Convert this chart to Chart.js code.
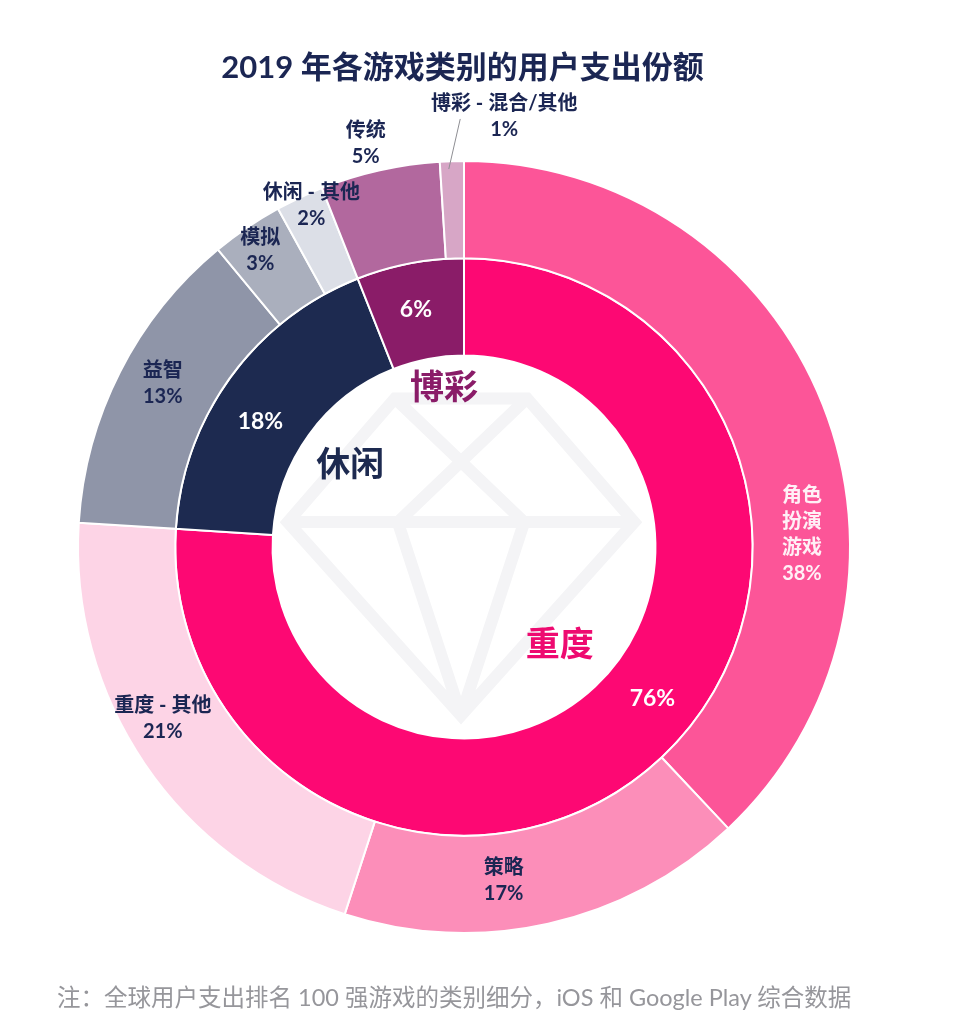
<!DOCTYPE html>
<html lang="zh-CN">
<head>
<meta charset="utf-8">
<title>2019 年各游戏类别的用户支出份额</title>
<script src="https://cdn.jsdelivr.net/npm/chart.js@4.4.1/dist/chart.umd.min.js"></script>
<style>
  html, body { margin: 0; padding: 0; background: #fff; }
  #wrap { position: relative; width: 953px; height: 1031px; overflow: hidden; }
  #chart { position: absolute; left: 0; top: 0; }
  .title {
    position: absolute; left: 0; top: 42px; width: 925px;
    line-height: 42px; text-align: center;
    font: bold 31px Lato, "Noto Sans CJK SC", sans-serif; color: #1B2653;
  }
  .note {
    position: absolute; left: 57px; top: 979px;
    line-height: 32px; white-space: nowrap;
    font: 23.5px Lato, "Noto Sans CJK SC", sans-serif; color: #96969B;
  }
</style>
</head>
<body>
<div id="wrap">
  <canvas id="chart" width="953" height="1031"></canvas>
  <div class="title">2019 年各游戏类别的用户支出份额</div>
  <div class="note">注：全球用户支出排名 100 强游戏的类别细分，iOS 和 Google Play 综合数据</div>
</div>
<script>
  // inner ring: main groups
  var groupNames = ["重度", "休闲", "博彩"];
  var groupShares = [76, 18, 6];

  // outer ring: sub-categories
  var subNames = ["角色扮演游戏", "策略", "重度 - 其他", "益智", "模拟", "休闲 - 其他", "传统", "博彩 - 混合/其他"];
  var subShares = [38, 17, 21, 13, 3, 2, 5, 1];

  var groupColors = ["#FD0873", "#1D2A50", "#8A1C68"];
  var groupNameColors = ["#EE0A70", "#1D2A50", "#8A1C68"];
  var subColors = ["#FC5598", "#FC8EB9", "#FDD4E6", "#8F95A8", "#AAAFBD", "#DCDFE7", "#B2689E", "#D7A6C6"];

  var NAVY = "#1B2653";

  // where each label sits: "at" = fraction along the arc, "r" = fraction of the outer radius
  var subSpots = [
    { at: 0.643, r: 0.876, color: "#FFF0F6", wrap: 2 },
    { at: 0.595, r: 0.869 },
    { at: 0.56, r: 0.898 },
    { at: 0.532, r: 0.888 },
    { at: 0.47, r: 0.931 },
    { at: 0.65, r: 0.968 },
    { at: 0.44, r: 1.077 },
    { at: 0.36, r: 0.98, leader: { at: 0.86, r: 1.109 }, shift: 44 }
  ];
  var groupPctSpots = [
    { at: 0.471, r: 0.627 },
    { at: 0.434, r: 0.62 },
    { at: 0.47, r: 0.627 }
  ];
  var groupNameSpots = [
    { at: 0.496, r: 0.355 },
    { at: 0.495, r: 0.363 },
    { at: 0.667, r: 0.414 }
  ];

  function spot(arc, s, R) {
    var a = arc.startAngle + s.at * (arc.endAngle - arc.startAngle);
    return { x: arc.x + s.r * R * Math.cos(a), y: arc.y + s.r * R * Math.sin(a) };
  }

  function splitName(name, wrap) {
    if (!wrap) return [name];
    var out = [];
    for (var i = 0; i < name.length; i += wrap) out.push(name.slice(i, i + wrap));
    return out;
  }

  function drawBlock(ctx, lines, x, y, lh) {
    var top = y - (lines.length - 1) * lh / 2;
    lines.forEach(function (t, i) { ctx.fillText(t, x, top + i * lh); });
  }

  var ringLabels = {
    id: "ringLabels",
    beforeDatasetsDraw: function (chart) {
      // faint diamond watermark inside the hole
      var inner = chart.getDatasetMeta(1).data[0];
      var cx = inner.x - 3, cy = inner.y, h = inner.innerRadius;
      var P = function (u, v) { return [cx + u * h, cy + v * h]; };
      var T1 = P(-0.345, -0.776), T2 = P(0.345, -0.776);
      var G1 = P(-0.905, -0.13), G2 = P(0.905, -0.13);
      var I1 = P(-0.33, -0.13), I2 = P(0.33, -0.13);
      var B = P(0, 0.88);
      var ctx = chart.ctx;
      ctx.save();
      ctx.beginPath();
      ctx.arc(inner.x, inner.y, h, 0, Math.PI * 2);
      ctx.clip();
      ctx.strokeStyle = "#F4F4F6";
      ctx.lineWidth = 12;
      ctx.lineJoin = "miter";
      ctx.beginPath();
      ctx.moveTo(T1[0], T1[1]); ctx.lineTo(T2[0], T2[1]); ctx.lineTo(G2[0], G2[1]);
      ctx.lineTo(B[0], B[1]); ctx.lineTo(G1[0], G1[1]); ctx.closePath();
      ctx.moveTo(G1[0], G1[1]); ctx.lineTo(G2[0], G2[1]);
      ctx.moveTo(T1[0], T1[1]); ctx.lineTo(I2[0], I2[1]); ctx.lineTo(B[0], B[1]);
      ctx.moveTo(T2[0], T2[1]); ctx.lineTo(I1[0], I1[1]); ctx.lineTo(B[0], B[1]);
      ctx.stroke();
      ctx.restore();
    },
    afterDatasetsDraw: function (chart) {
      var ctx = chart.ctx;
      var outer = chart.getDatasetMeta(0).data;
      var inner = chart.getDatasetMeta(1).data;
      var R = outer[0].outerRadius;
      ctx.save();
      ctx.textAlign = "center";
      ctx.textBaseline = "middle";

      // outer ring labels
      ctx.font = "bold 20px Lato, 'Noto Sans CJK SC', sans-serif";
      outer.forEach(function (arc, i) {
        var s = subSpots[i];
        var p = spot(arc, s, R);
        var lines = splitName(subNames[i], s.wrap).concat([subShares[i] + "%"]);
        if (s.leader) {
          var q = spot(arc, s.leader, R);
          ctx.strokeStyle = "#8E8E93";
          ctx.lineWidth = 1;
          ctx.beginPath();
          ctx.moveTo(p.x, p.y);
          ctx.lineTo(q.x, q.y);
          ctx.stroke();
          p = { x: q.x + s.shift, y: q.y - 2 };
        }
        ctx.fillStyle = s.color || NAVY;
        drawBlock(ctx, lines, p.x, p.y, 26);
      });

      // inner ring percentages
      ctx.font = "bold 23px Lato, 'Noto Sans CJK SC', sans-serif";
      ctx.fillStyle = "#FFFFFF";
      inner.forEach(function (arc, i) {
        var p = spot(arc, groupPctSpots[i], R);
        ctx.fillText(groupShares[i] + "%", p.x, p.y);
      });

      // group names in the hole
      ctx.font = "bold 34px Lato, 'Noto Sans CJK SC', sans-serif";
      inner.forEach(function (arc, i) {
        var p = spot(arc, groupNameSpots[i], R);
        ctx.fillStyle = groupNameColors[i];
        ctx.fillText(groupNames[i], p.x, p.y);
      });
      ctx.restore();
    }
  };

  new Chart(document.getElementById("chart").getContext("2d"), {
    type: "doughnut",
    data: {
      labels: subNames,
      datasets: [
        {
          data: subShares,
          backgroundColor: subColors,
          borderColor: "#FFFFFF",
          borderWidth: 2
        },
        {
          data: groupShares,
          backgroundColor: groupColors,
          borderColor: "#FFFFFF",
          borderWidth: 2
        }
      ]
    },
    options: {
      responsive: false,
      animation: false,
      cutout: "49.6%",
      layout: { padding: { left: 77, right: 102, top: 160, bottom: 97 } },
      plugins: {
        legend: { display: false },
        tooltip: { enabled: false }
      }
    },
    plugins: [ringLabels]
  });
</script>
</body>
</html>
